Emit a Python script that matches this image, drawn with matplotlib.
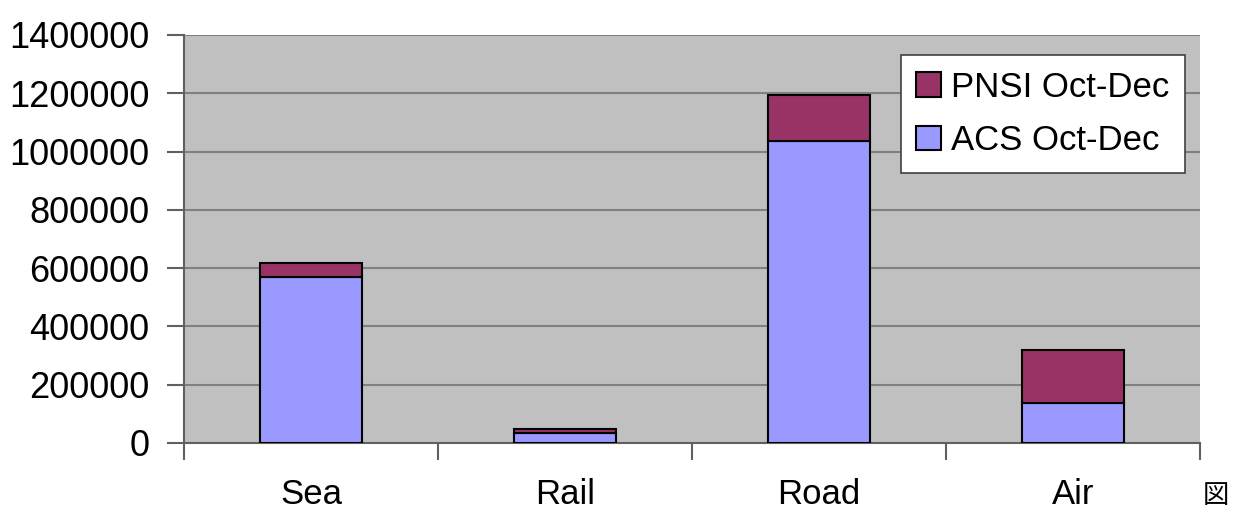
import numpy as np
import matplotlib
matplotlib.use("Agg")
import matplotlib.pyplot as plt

# freight volume by transport mode, stacked by source
modes = ["Sea", "Rail", "Road", "Air"]
acs_values = [570000, 35000, 1037000, 137000]
pnsi_values = [48000, 12000, 157000, 182000]
y_ticks = [0, 200000, 400000, 600000, 800000, 1000000, 1200000, 1400000]

plt.rcParams['font.family'] = ['Liberation Sans', 'DejaVu Sans']

fig = plt.figure(figsize=(12.34, 5.13), dpi=100)
ax = fig.add_axes([0.149, 0.1365, 0.8235, 0.7953])
ax.set_facecolor("#C0C0C0")

x = np.arange(len(modes))
ax.bar(x, acs_values, width=0.4, color="#9999FF", edgecolor="black",
       linewidth=1.5, label="ACS Oct-Dec", zorder=3)
ax.bar(x, pnsi_values, width=0.4, bottom=acs_values, color="#993366",
       edgecolor="black", linewidth=1.5, label="PNSI Oct-Dec", zorder=3)

ax.set_xlim(-0.5, 3.5)
ax.set_ylim(0, 1400000)
ax.set_yticks(y_ticks)
ax.set_yticklabels([str(v) for v in y_ticks], fontsize=26)
ax.yaxis.grid(True, color="#808080", linewidth=1.5, zorder=0)

# category labels at centres, tick marks between categories
ax.set_xticks(x)
ax.set_xticklabels(modes, fontsize=25)
ax.tick_params(axis="x", which="major", length=0, pad=25)
ax.set_xticks(np.arange(-0.5, 4.0, 1.0), minor=True)
ax.tick_params(axis="x", which="minor", length=12, width=1.5, color="#606060")
ax.tick_params(axis="y", length=12, width=1.5, color="#606060", pad=13)

for side in ["top", "right"]:
    ax.spines[side].set_visible(False)
for side in ["left", "bottom"]:
    ax.spines[side].set_color("#606060")
    ax.spines[side].set_linewidth(1.5)

handles, labels = ax.get_legend_handles_labels()
leg = ax.legend(handles[::-1], labels[::-1], fontsize=25, loc="upper right",
                bbox_to_anchor=(0.985, 0.951), borderaxespad=0,
                frameon=True, fancybox=False,
                edgecolor="#404040", facecolor="white", framealpha=1,
                handlelength=0.7, handleheight=0.7, handletextpad=0.3,
                labelspacing=0.6, borderpad=0.45)
leg.get_frame().set_linewidth(1.2)
leg.set_zorder(5)

fig.text(0.985, 0.008, "図", fontsize=19, family=["Noto Sans CJK JP"],
         ha="center", va="bottom")

fig.savefig("out.png", dpi=100)
